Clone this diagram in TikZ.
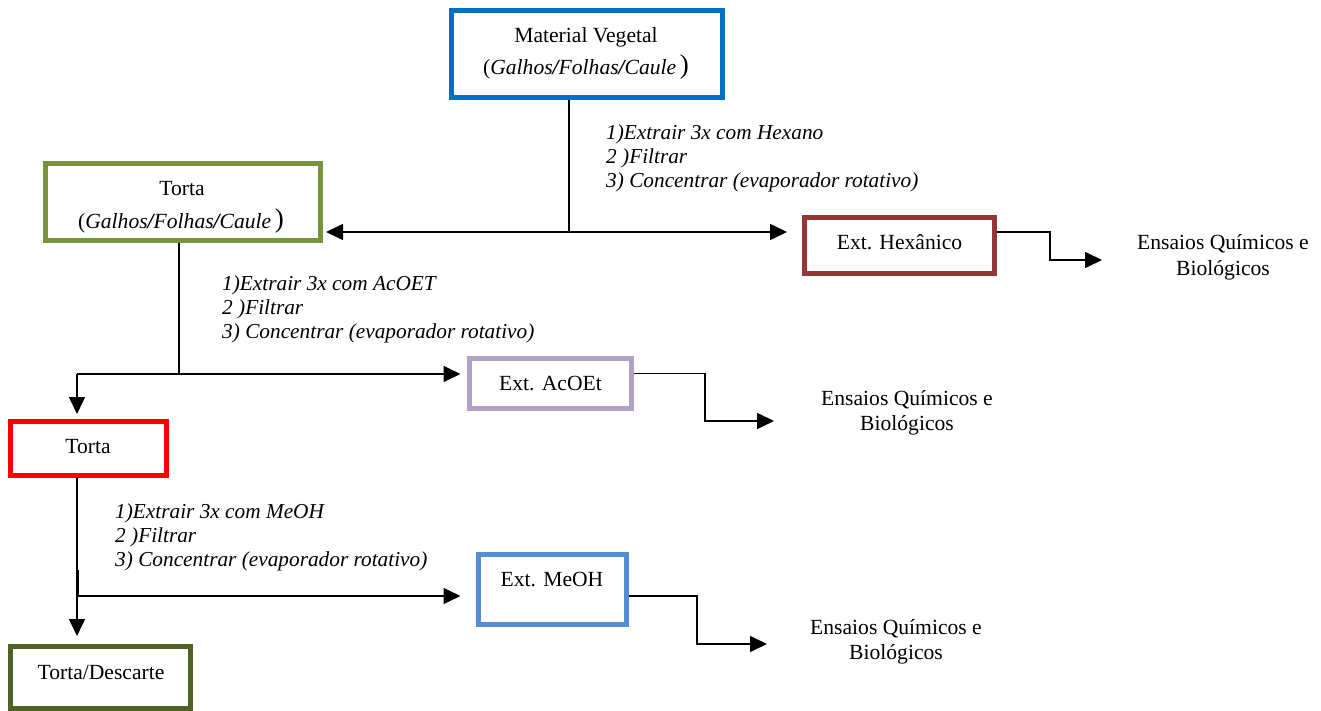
\documentclass[tikz,border=0pt]{standalone}
\usepackage{fontspec}
\setmainfont{Liberation Serif}
\usetikzlibrary{arrows.meta,calc}
\definecolor{cMV}{RGB}{0,112,192}
\definecolor{cTG}{RGB}{119,147,60}
\definecolor{cHX}{RGB}{149,55,53}
\definecolor{cAC}{RGB}{178,161,199}
\definecolor{cTR}{RGB}{255,0,0}
\definecolor{cME}{RGB}{85,142,213}
\definecolor{cTD}{RGB}{79,98,40}
\begin{document}
\begin{tikzpicture}[x=1pt,y=-1pt,
  box/.style={draw, rectangle, line width=5pt, inner sep=0pt},
  txt/.style={font=\fontsize{21.6}{25}\selectfont, inner sep=0pt, anchor=base},
  note/.style={font=\fontsize{21.3}{24}\selectfont\itshape, inner sep=0pt, anchor=base west, align=left},
  conn/.style={line width=1.6pt, black},
  arr/.style={conn, -{Triangle[length=17pt,width=16pt]}},
  darr/.style={conn, {Triangle[length=17pt,width=16pt]}-{Triangle[length=17pt,width=16pt]}},
]
\useasboundingbox (0,0) rectangle (1321,711);

% boxes
\node[box, draw=cMV, minimum width=270.5pt, minimum height=87pt] (mv) at (587,54.5) {};
\node[box, draw=cTG, minimum width=275pt, minimum height=76.5pt] (tg) at (182.5,202.25) {};
\node[box, draw=cHX, minimum width=190.5pt, minimum height=56pt] (hx) at (899.25,245.5) {};
\node[box, draw=cAC, minimum width=162.5pt, minimum height=50pt] (ac) at (550.25,383) {};
\node[box, draw=cTR, minimum width=156pt, minimum height=53.2pt] (tr) at (88.5,448.4) {};
\node[box, draw=cME, minimum width=148.5pt, minimum height=70pt] (me) at (552.25,589.5) {};
\node[box, draw=cTD, minimum width=180pt, minimum height=61.5pt] (td) at (100.5,677.25) {};

% box texts
\node[txt] (mvt1) at (586,42.7) {Material Vegetal};
\node[txt] (mvt2) at (586,75) {(\textit{Galhos\textbf{/}Folhas\textbf{/}Caule}\thinspace\raisebox{1.5pt}{\fontsize{27}{27}\selectfont )}};
\node[txt] (tgt1) at (182,195.7) {Torta};
\node[txt] (tgt2) at (181,229) {(\textit{Galhos\textbf{/}Folhas\textbf{/}Caule}\thinspace\raisebox{1.5pt}{\fontsize{27}{27}\selectfont )}};
\node[txt] (hxt) at (899.5,250) {Ext. Hexânico};
\node[txt] (act) at (550.5,390) {Ext. AcOEt};
\node[txt] (trt) at (88,453) {Torta};
\node[txt] (met) at (552,586.7) {Ext. MeOH};
\node[txt] (tdt) at (101,679) {Torta/Descarte};

% Ensaios texts (base = last line)
\node[txt, align=center] (en1) at (1223,275) {Ensaios Químicos e\\Biológicos};
\node[txt, align=center] (en2) at (907,430) {Ensaios Químicos e\\Biológicos};
\node[txt, align=center] (en3) at (896,659) {Ensaios Químicos e\\Biológicos};

% step notes (base = last line)
\node[note] (n1) at (606,188) {1)Extrair 3x com Hexano\\2 )Filtrar\\3) Concentrar (evaporador rotativo)};
\node[note] (n2) at (222,338) {1)Extrair 3x com AcOET\\2 )Filtrar\\3) Concentrar (evaporador rotativo)};
\node[note] (n3) at (115,566) {1)Extrair 3x com MeOH\\2 )Filtrar\\3) Concentrar (evaporador rotativo)};

% coordinates
\coordinate (j1) at (569,232);
\coordinate (h1) at (1050,260);
\coordinate (e1) at (1102,260);
\coordinate (j2) at (179,374);
\coordinate (c2) at (77,374);
\coordinate (ya) at (705,373.3);
\coordinate (a1) at (705,421);
\coordinate (e2) at (774,421);
\coordinate (j3) at (77,596);
\coordinate (k3) at (78.3,570);
\coordinate (m1) at (697,644);
\coordinate (e3) at (767,644);

% connectors: hexane
\draw[conn] (mv.south -| j1) -- (j1);
\draw[darr, shorten <=3.5pt, shorten >=14.5pt] (tg.east |- j1) -- (hx.west |- j1);
\draw[arr] (hx.east |- j1) -| (h1) -- (e1);

% connectors: AcOEt
\draw[conn] (tg.south -| j2) -- (j2);
\draw[arr, shorten >=6pt] (c2) -- (ac.west |- c2);
\draw[arr, shorten >=5.3pt] (c2) -- (c2 |- tr.north);
\draw[arr] (ac.east |- ya) -| (a1) -- (e2);

% connectors: MeOH
\draw[arr, shorten >=8pt] (tr.south -| j3) -- (j3 |- td.north);
\draw[arr, shorten >=15pt] (k3) |- (me.west |- j3);
\draw[arr] (me.east |- j3) -| (m1) -- (e3);
\end{tikzpicture}
\end{document}
